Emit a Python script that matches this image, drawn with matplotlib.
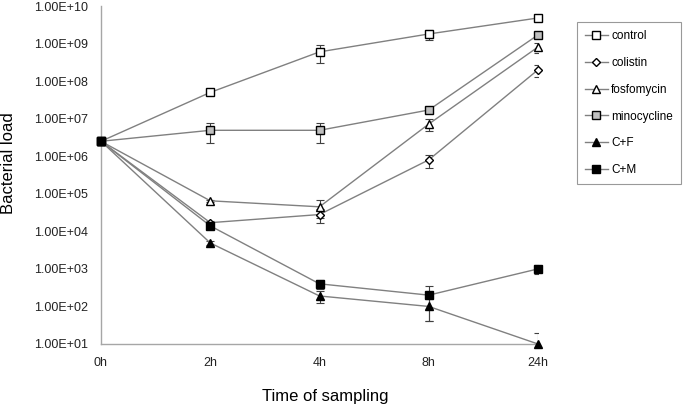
import numpy as np
import matplotlib
matplotlib.use('Agg')
import matplotlib.pyplot as plt
from matplotlib.ticker import FixedLocator, FuncFormatter, NullLocator

plt.rcParams['font.family'] = ['Liberation Sans', 'DejaVu Sans']

# ---------------------------------------------------------------------------
# Data
# ---------------------------------------------------------------------------
times = ['0h', '2h', '4h', '8h', '24h']

control     = [2.5e6, 5.0e7, 6.0e8, 1.8e9, 4.8e9]
colistin    = [2.5e6, 1.7e4, 2.8e4, 8.0e5, 2.0e8]
fosfomycin  = [2.5e6, 6.5e4, 4.5e4, 7.2e6, 8.1e8]
minocycline = [2.5e6, 4.9e6, 4.9e6, 1.7e7, 1.7e9]
c_f         = [2.5e6, 4.9e3, 1.9e2, 1.0e2, 1.0e1]
c_m         = [2.5e6, 1.4e4, 4.0e2, 2.0e2, 1.0e3]

control_sd     = [0, 0, 3.0e8, 5.5e8, 0]
colistin_sd    = [0, 2.0e3, 1.1e4, 3.0e5, 7.0e7]
fosfomycin_sd  = [0, 5.0e3, 2.3e4, 2.5e6, 2.5e8]
minocycline_sd = [0, 2.7e6, 2.7e6, 3.0e6, 2.0e8]
c_f_sd         = [0, 5.0e2, 7.0e1, 6.0e1, 1.0e1]
c_m_sd         = [0, 2.0e3, 1.0e2, 1.6e2, 2.5e2]

yticks = [10.0 ** k for k in range(1, 11)]

# ---------------------------------------------------------------------------
# Series styles
# ---------------------------------------------------------------------------
series = [
    ('control',     control,     control_sd,     's', 'white',   5.5),
    ('colistin',    colistin,    colistin_sd,    'D', 'white',   4.0),
    ('fosfomycin',  fosfomycin,  fosfomycin_sd,  '^', 'white',   5.5),
    ('minocycline', minocycline, minocycline_sd, 's', '#bfbfbf', 5.5),
    ('C+F',         c_f,         c_f_sd,         '^', 'black',   5.5),
    ('C+M',         c_m,         c_m_sd,         's', 'black',   5.5),
]

fig = plt.figure(figsize=(6.85, 4.07), dpi=100)
ax = fig.add_axes([101 / 685, 1 - 344 / 407, 437 / 685, 338 / 407])

x = np.arange(len(times))
for label, vals, sd, mk, fc, ms in series:
    vals = np.array(vals)
    sd = np.array(sd)
    lower = np.where(sd >= vals, 0, sd)
    ax.errorbar(x, vals, yerr=[lower, sd], fmt='none', ecolor='#404040',
                elinewidth=0.8, capsize=3, capthick=0.8, zorder=2)
    ax.plot(x, vals, marker=mk, ms=ms, mfc=fc, mec='black', mew=1.0,
            color='#808080', lw=1.0, label=label, zorder=3, clip_on=False)

ax.set_yscale('log')
ax.set_ylim(10, 1e10)
ax.set_xlim(0, 4)
ax.yaxis.set_major_locator(FixedLocator(yticks))
ax.yaxis.set_minor_locator(NullLocator())
ax.yaxis.set_major_formatter(FuncFormatter(lambda v, p: f'{v:.2E}'))
ax.set_xticks(x)
ax.set_xticklabels(times)
ax.tick_params(axis='both', length=0, labelsize=9, colors='#222222')
ax.tick_params(axis='y', pad=9.5)
ax.tick_params(axis='x', pad=9)

for side in ['top', 'right']:
    ax.spines[side].set_visible(False)
for side in ['left', 'bottom']:
    ax.spines[side].set_color('#a6a6a6')
    ax.spines[side].set_linewidth(1.0)

ax.set_ylabel('Bacterial load', fontsize=12)
ax.yaxis.set_label_coords(-0.195, 0.535)
ax.set_xlabel('Time of sampling', fontsize=12)
ax.xaxis.set_label_coords(0.513, -0.133)

leg = ax.legend(loc='upper left', bbox_to_anchor=(577 / 685, 1 - 22 / 407),
                bbox_transform=fig.transFigure, fontsize=8.5, frameon=True,
                fancybox=False, edgecolor='#808080', handlelength=1.9,
                handletextpad=0.3, labelspacing=1.25, borderpad=0.7,
                borderaxespad=0)
leg.get_frame().set_linewidth(0.8)

fig.savefig('out.png', dpi=100)
